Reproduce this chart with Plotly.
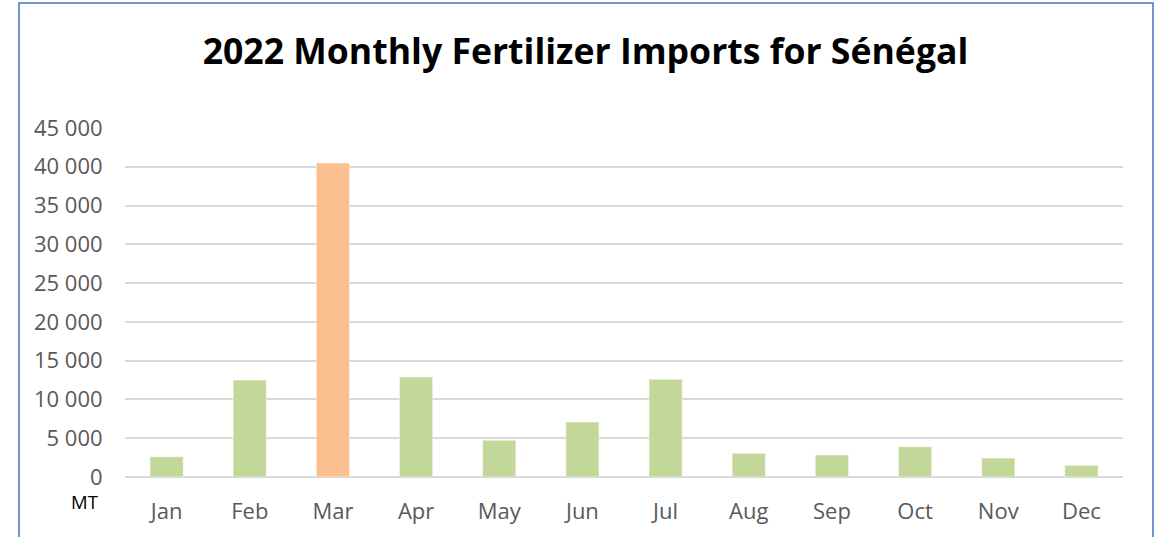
import plotly.graph_objects as go

months = ["Jan", "Feb", "Mar", "Apr", "May", "Jun", "Jul", "Aug", "Sep", "Oct", "Nov", "Dec"]
imports_mt = [2600, 12500, 40500, 12900, 4750, 7100, 12600, 3050, 2850, 3900, 2450, 1500]
highlight_month = "Mar"
y_ticks = [0, 5000, 10000, 15000, 20000, 25000, 30000, 35000, 40000, 45000]

GREEN = "#C4D79B"
ORANGE = "#FAC090"
colors = [ORANGE if m == highlight_month else GREEN for m in months]

FONT = "Open Sans"

fig = go.Figure(go.Bar(
    x=months, y=imports_mt,
    marker=dict(color=colors, line=dict(color="rgba(255,255,255,0.5)", width=1)),
    width=0.4,
))

L, R, T, B = 125, 37, 128, 60
W, H = 1160, 537
pw, ph = W - L - R, H - T - B

def px_x(p):
    return (p - L) / pw

def px_y(p):
    return (H - B - p) / ph

fig.update_layout(
    width=W, height=H,
    margin=dict(l=L, r=R, t=T, b=B),
    paper_bgcolor="white", plot_bgcolor="white",
    separators=". ",
    showlegend=False,
    title=dict(
        text="<b>2022 Monthly Fertilizer Imports for Sénégal</b>",
        x=px_x(585.5), xref="paper", xanchor="center",
        y=1 - 52 / H, yref="container", yanchor="middle",
        font=dict(family=FONT, size=35.6, color="black"),
    ),
    xaxis=dict(
        type="category",
        showgrid=False, showline=False, zeroline=False,
        ticks="outside", ticklen=15, tickcolor="rgba(0,0,0,0)",
        tickfont=dict(family=FONT, size=22, color="#595959"),
        range=[-0.5, 11.5],
    ),
    yaxis=dict(
        range=[0, 45000],
        tickvals=y_ticks,
        tickformat=",",
        showgrid=True, gridcolor="#D9D9D9", gridwidth=1.5,
        zeroline=True, zerolinecolor="#D9D9D9", zerolinewidth=1.5,
        showline=False,
        ticks="outside", ticklen=17, tickcolor="rgba(0,0,0,0)",
        tickfont=dict(family=FONT, size=22, color="#595959"),
    ),
    shapes=[dict(
        type="rect", xref="paper", yref="paper",
        x0=px_x(19), x1=px_x(1153), y0=px_y(545), y1=px_y(3),
        line=dict(color="#4472C4", width=1.5), fillcolor="rgba(0,0,0,0)",
        layer="below",
    )],
    annotations=[dict(
        text="MT", xref="paper", yref="paper",
        x=px_x(84), y=px_y(501), xanchor="center", yanchor="middle",
        showarrow=False, font=dict(family=FONT, size=18.5, color="black"),
    )],
)

fig.write_html(
    "out.html",
    config={"displayModeBar": False},
    post_script="document.body.style.margin='0';",
)
